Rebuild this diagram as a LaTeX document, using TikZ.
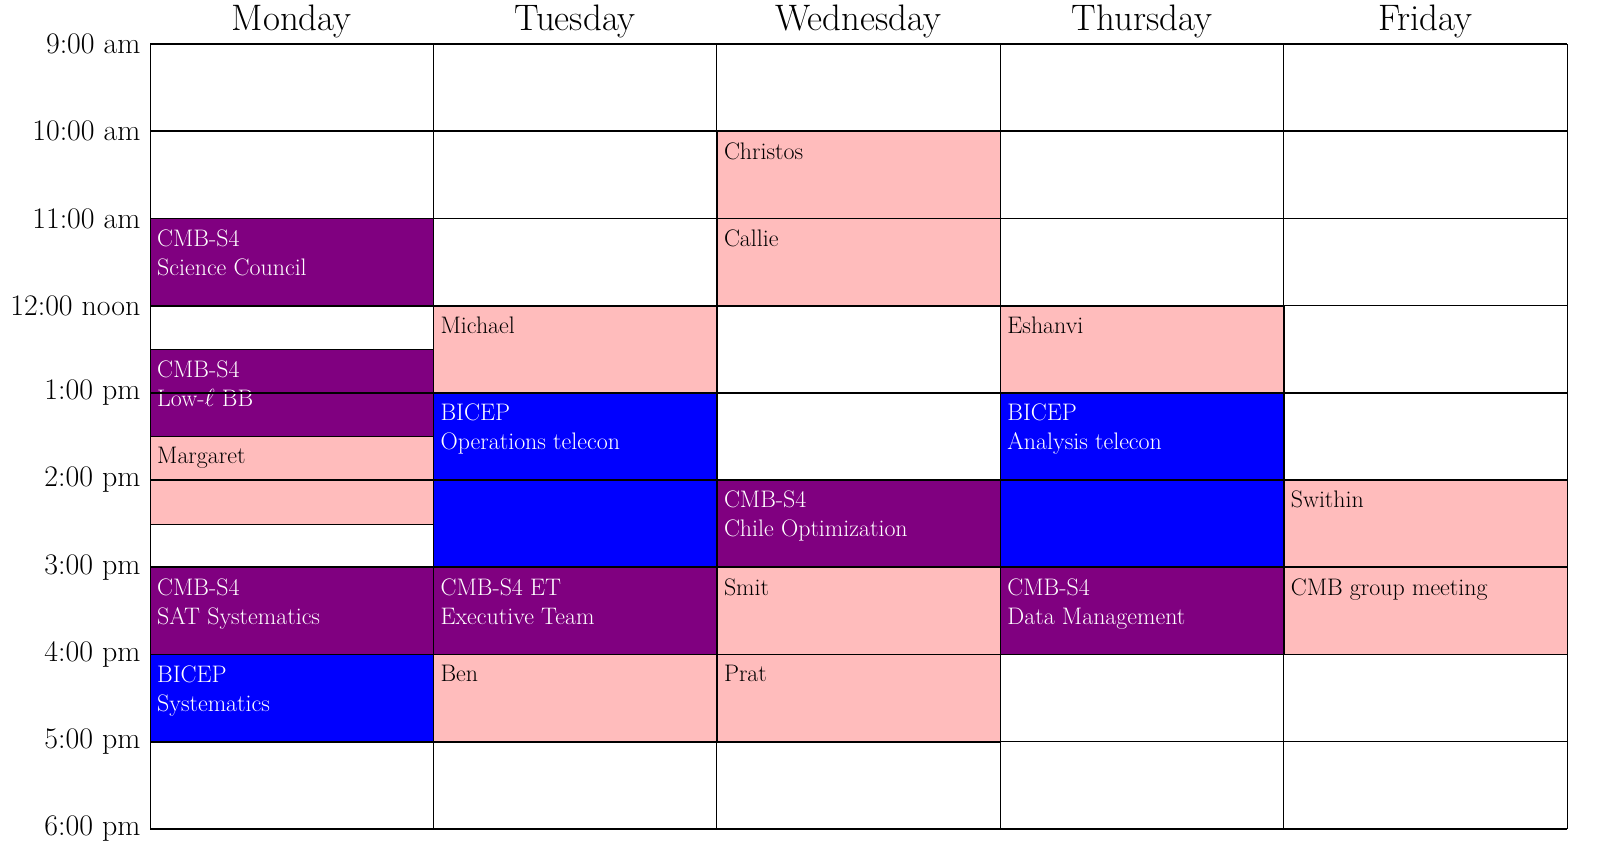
\documentclass[tikz,border=0pt]{standalone}
\usetikzlibrary{positioning}
\definecolor{cmbs}{HTML}{800080}
\definecolor{bicep}{HTML}{0000FF}
\definecolor{person}{HTML}{FFBCBC}
\begin{document}
\begin{tikzpicture}[x=1bp,y=-1bp]
  \tikzstyle{slot}=[rectangle,draw=black,line width=0.8bp,inner sep=0pt,anchor=north west,minimum width=283.4bp]
  \tikzstyle{what}=[anchor=north west,align=left,inner sep=0pt,font=\fontsize{24}{29}\selectfont]
  \tikzstyle{day}=[anchor=base,inner sep=0pt,font=\fontsize{37}{42}\selectfont]
  \tikzstyle{hour}=[anchor=east,font=\fontsize{30}{34}\selectfont]
  \useasboundingbox (0,0) rectangle (1600,861);

  % the meetings
  \foreach \d/\s/\e/\c/\tc/\t [count=\i] in {
      0/2/3/cmbs/white/{CMB-S4\\Science Council},
      0/3.5/4.5/cmbs/white/{CMB-S4\\Low-$\ell$ BB},
      0/4.5/5.5/person/black/{Margaret},
      0/6/7/cmbs/white/{CMB-S4\\SAT Systematics},
      0/7/8/bicep/white/{BICEP\\Systematics},
      1/3/4/person/black/{Michael},
      1/4/6/bicep/white/{BICEP\\Operations telecon},
      1/6/7/cmbs/white/{CMB-S4 ET\\Executive Team},
      1/7/8/person/black/{Ben},
      2/1/2/person/black/{Christos},
      2/2/3/person/black/{Callie},
      2/5/6/cmbs/white/{CMB-S4\\Chile Optimization},
      2/6/7/person/black/{Smit},
      2/7/8/person/black/{Prat},
      3/3/4/person/black/{Eshanvi},
      3/4/6/bicep/white/{BICEP\\Analysis telecon},
      3/6/7/cmbs/white/{CMB-S4\\Data Management},
      4/5/6/person/black/{Swithin},
      4/6/7/person/black/{CMB group meeting}} {
    \pgfmathsetmacro{\h}{(\e-\s)*87.2}
    \node[slot,fill=\c,minimum height=\h bp] (ev\i) at (150+\d*283.4,44+\s*87.2) {};
    \node[what,text=\tc] (tx\i) at ([shift={(7,11)}]ev\i.north west) {\t};
  }

  % grid
  \foreach \k in {0,...,9}
    \draw[line width=1.6bp] (150,44+\k*87.2) -- (1567,44+\k*87.2);
  \foreach \d in {0,...,5}
    \draw[line width=0.8bp] (150+\d*283.4,44) -- (150+\d*283.4,829);

  % days and hours
  \foreach \n [count=\d from 0] in {Monday,Tuesday,Wednesday,Thursday,Friday}
    \node[day] (d\d) at (291.7+\d*283.4,30) {\n};
  \foreach \n [count=\k from 0] in {9:00 am,10:00 am,11:00 am,12:00 noon,1:00 pm,2:00 pm,3:00 pm,4:00 pm,5:00 pm,6:00 pm}
    \node[hour] (h\k) at (144,44+\k*87.2) {\n};
\end{tikzpicture}
\end{document}
